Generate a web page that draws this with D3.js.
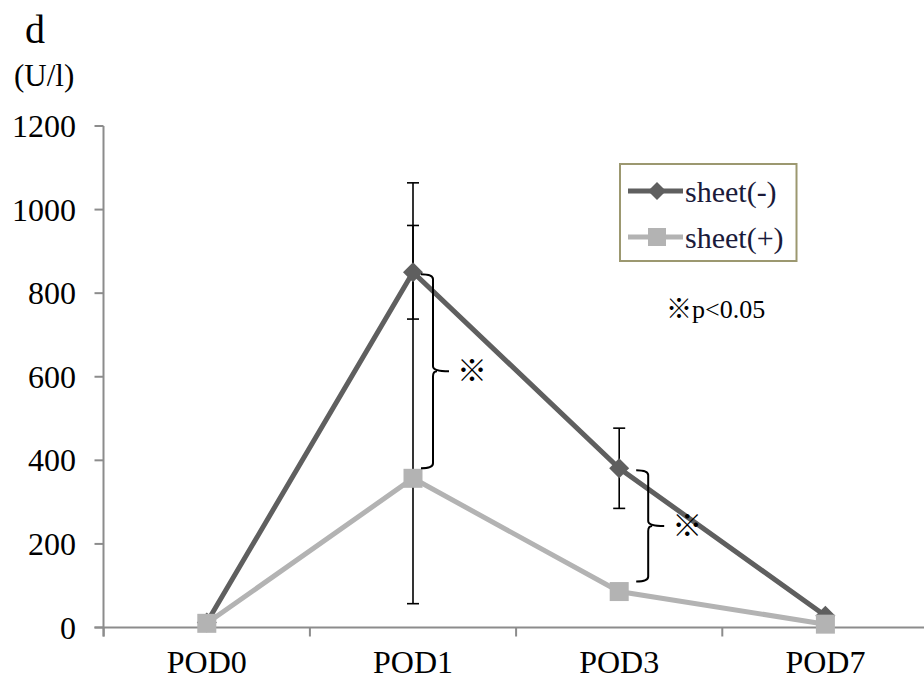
<!DOCTYPE html>
<html>
<head>
<meta charset="utf-8">
<script src="https://cdn.jsdelivr.net/npm/d3@7/dist/d3.min.js"></script>
<style>
  html, body { margin: 0; padding: 0; background: #fff; }
  svg { display: block; }
  text { font-family: "Liberation Serif", "Times New Roman", Times, serif; fill: #000; }
</style>
</head>
<body>
<svg id="chart" width="924" height="682"></svg>
<script>
// ---- data ----
const categories = ["POD0", "POD1", "POD3", "POD7"];
const seriesNames = ["sheet(-)", "sheet(+)"];
const sheetMinus = [12, 850, 381, 28];
const sheetPlus = [10, 357, 86, 8];
const sheetMinusErrPlus = [0, 112, 96, 0];
const sheetMinusErrMinus = [0, 112, 96, 0];
const sheetPlusErrPlus = [0, 707, 0, 0];
const sheetPlusErrMinus = [0, 300, 0, 0];
const yTicks = [0, 200, 400, 600, 800, 1000, 1200];
const sigPairs = ["POD1", "POD3"];
const sigMark = "※";
const sigNote = "※p<0.05";
const panelLabel = "d";
const unitLabel = "(U/l)";

// ---- layout ----
const serif = "'Liberation Serif', 'Times New Roman', Times, serif";
const svg = d3.select("#chart");
const x = d3.scaleBand().domain(categories).range([103.7, 103.7 + 4 * 206.2]).padding(0);
const y = d3.scaleLinear().domain([0, 1200]).range([627.5, 126]);
const axisColor = "#8c8c8c";
const darkColor = "#5f5f5f";
const lightColor = "#b3b3b3";
const cx = c => x(c) + x.bandwidth() / 2;

// panel label and unit
svg.append("text").attr("x", 25).attr("y", 43).style("font-family", serif).style("font-size", "40px").text(panelLabel);
svg.append("text").attr("x", 14).attr("y", 86).style("font-family", serif).style("font-size", "31px").text(unitLabel);

// y axis
const yAxis = svg.append("g").attr("transform", "translate(103.5,0)");
yAxis.append("line").attr("x1", 0).attr("x2", 0).attr("y1", y(1200)).attr("y2", y(0) + 9)
  .attr("stroke", axisColor).attr("stroke-width", 2);
yAxis.selectAll("line.tk").data(yTicks).enter().append("line").attr("class", "tk")
  .attr("x1", -9).attr("x2", 0).attr("y1", d => y(d)).attr("y2", d => y(d))
  .attr("stroke", axisColor).attr("stroke-width", 2);
svg.selectAll("text.ytl").data(yTicks).enter().append("text").attr("class", "ytl")
  .attr("x", 76).attr("y", d => y(d) + 11).attr("text-anchor", "end")
  .style("font-family", serif).style("font-size", "32px").text(d => d);

// x axis
svg.append("line").attr("x1", 94.5).attr("x2", 924).attr("y1", y(0)).attr("y2", y(0))
  .attr("stroke", axisColor).attr("stroke-width", 2);
const bounds = categories.map(c => x(c)).concat([x(categories[categories.length - 1]) + x.bandwidth()]);
svg.selectAll("line.xtk").data(bounds).enter().append("line").attr("class", "xtk")
  .attr("x1", d => d).attr("x2", d => d).attr("y1", y(0)).attr("y2", y(0) + 9)
  .attr("stroke", axisColor).attr("stroke-width", 2);
svg.selectAll("text.xtl").data(categories).enter().append("text").attr("class", "xtl")
  .attr("x", d => cx(d)).attr("y", 673).attr("text-anchor", "middle")
  .style("font-family", serif).style("font-size", "32px").text(d => d);

// error bars
function errorBars(vals, ep, em) {
  const g = svg.append("g").attr("stroke", "#000").attr("stroke-width", 1.6);
  categories.forEach((c, i) => {
    if (!ep[i] && !em[i]) return;
    const X = cx(c), top = y(vals[i] + ep[i]), bot = y(vals[i] - em[i]);
    g.append("line").attr("x1", X).attr("x2", X).attr("y1", top).attr("y2", bot);
    g.append("line").attr("x1", X - 6).attr("x2", X + 6).attr("y1", top).attr("y2", top);
    g.append("line").attr("x1", X - 6).attr("x2", X + 6).attr("y1", bot).attr("y2", bot);
  });
}
errorBars(sheetPlus, sheetPlusErrPlus, sheetPlusErrMinus);
errorBars(sheetMinus, sheetMinusErrPlus, sheetMinusErrMinus);

// lines
const line = d3.line().x((d, i) => cx(categories[i])).y(d => y(d));
svg.append("path").datum(sheetMinus).attr("d", line).attr("fill", "none")
  .attr("stroke", darkColor).attr("stroke-width", 5).attr("stroke-linejoin", "miter");
svg.selectAll("path.dia").data(sheetMinus).enter().append("path").attr("class", "dia")
  .attr("d", "M0,-10L10,0L0,10L-10,0Z").attr("fill", darkColor)
  .attr("transform", (d, i) => `translate(${cx(categories[i])},${y(d)})`);

svg.append("path").datum(sheetPlus).attr("d", line).attr("fill", "none")
  .attr("stroke", lightColor).attr("stroke-width", 5);
svg.selectAll("rect.sq").data(sheetPlus).enter().append("rect").attr("class", "sq")
  .attr("x", (d, i) => cx(categories[i]) - 9.5).attr("y", d => y(d) - 9.5)
  .attr("width", 19).attr("height", 19).attr("fill", lightColor);

// significance braces
const braceXOffset = { POD1: 20, POD3: 29 };
sigPairs.forEach(c => {
  const i = categories.indexOf(c);
  const X = cx(c) + braceXOffset[c];
  const y1 = y(sheetMinus[i]) + 2;
  const y2 = y(sheetPlus[i]) - 10;
  const ym = (y1 + y2) / 2;
  const w = 12, r = 5, nub = 16;
  const p = `M${X - w},${y1} Q${X},${y1} ${X},${y1 + r} L${X},${ym - r} Q${X},${ym} ${X + nub},${ym}` +
            ` M${X + 4},${ym} Q${X},${ym} ${X},${ym + r} L${X},${y2 - r} Q${X},${y2} ${X - w},${y2}`;
  svg.append("path").attr("d", p).attr("fill", "none").attr("stroke", "#000").attr("stroke-width", 2);
  svg.append("text").attr("x", X + nub + 23).attr("y", ym + 10).attr("text-anchor", "middle")
    .style("font-family", "'Noto Sans CJK JP', sans-serif").style("font-size", "30px").text(sigMark);
});

// legend
const lg = svg.append("g");
lg.append("rect").attr("x", 620).attr("y", 164).attr("width", 176.5).attr("height", 97)
  .attr("fill", "#fff").attr("stroke", "#9c9870").attr("stroke-width", 2);
const legendRows = [
  { name: seriesNames[0], color: darkColor, shape: "dia", ly: 191 },
  { name: seriesNames[1], color: lightColor, shape: "sq", ly: 237 }
];
legendRows.forEach(r => {
  lg.append("line").attr("x1", 628).attr("x2", 683).attr("y1", r.ly).attr("y2", r.ly)
    .attr("stroke", r.color).attr("stroke-width", 5);
  if (r.shape === "dia") {
    lg.append("path").attr("d", "M0,-9L9,0L0,9L-9,0Z").attr("fill", r.color)
      .attr("transform", `translate(657,${r.ly})`);
  } else {
    lg.append("rect").attr("x", 648).attr("y", r.ly - 9).attr("width", 18).attr("height", 18).attr("fill", r.color);
  }
  lg.append("text").attr("x", 685).attr("y", r.ly + 11).style("font-family", serif)
    .style("font-size", "30px").style("fill", "#1a1a3a").text(r.name);
});

// note
const note = svg.append("text").attr("x", 666).attr("y", 318).style("font-size", "26px");
note.append("tspan").style("font-family", "'Noto Sans CJK JP', sans-serif").text(sigNote.slice(0, 1));
note.append("tspan").style("font-family", serif).text(sigNote.slice(1));
</script>
</body>
</html>
